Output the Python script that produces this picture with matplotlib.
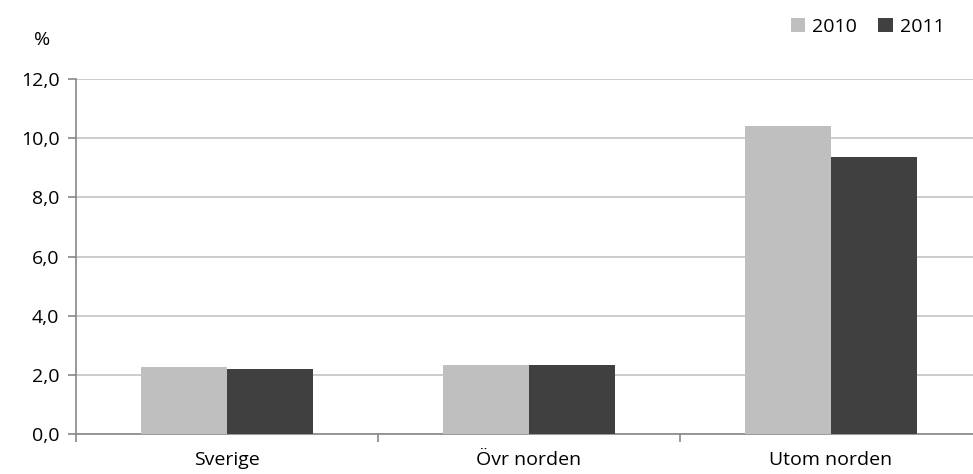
import matplotlib.pyplot as plt
import numpy as np

categories = ['Sverige', 'Övr norden', 'Utom norden']
values_2010 = [2.27, 2.33, 10.41]
values_2011 = [2.21, 2.32, 9.35]
years = ['2010', '2011']
yticks = [0, 2, 4, 6, 8, 10, 12]

plt.rcParams['font.family'] = ['Open Sans', 'DejaVu Sans']
fs = 14

fig = plt.figure(figsize=(9.73, 4.74), dpi=100)
# axes: left 76px, right ~982px (past edge), bottom 434px, top 79px
ax = fig.add_axes([76/973, 1 - 434/474, (982-76)/973, (434-79)/474])

x = np.arange(len(categories))
w = 0.285
ax.bar(x - w/2, values_2010, w, color='#bfbfbf', label=years[0], zorder=3)
ax.bar(x + w/2, values_2011, w, color='#404040', label=years[1], zorder=3)

ax.set_xlim(-0.5, 2.5)
ax.set_ylim(0, 12)
ax.set_yticks(yticks)
ax.set_yticklabels([f'{v:.1f}'.replace('.', ',') for v in yticks], fontsize=fs)
ax.yaxis.grid(True, color='#c4c4c4', linewidth=1.2, zorder=0)

ax.set_xticks(x)
ax.set_xticklabels(categories, fontsize=fs)
ax.set_xticks([-0.5, 0.5, 1.5, 2.5], minor=True)
ax.tick_params(axis='x', which='major', length=0, pad=12)
ax.tick_params(axis='x', which='minor', length=6, color='#888888', width=1.2)
ax.tick_params(axis='y', length=6, color='#888888', width=1.2, pad=6)

for s in ['top', 'right']:
    ax.spines[s].set_visible(False)
for s in ['left', 'bottom']:
    ax.spines[s].set_color('#888888')
    ax.spines[s].set_linewidth(1.2)

fig.text(42/973, 1 - 40/474, '%', fontsize=fs, ha='center', va='center')

ax.legend(loc='upper right', bbox_to_anchor=(962/973, 1 - 0/474), bbox_transform=fig.transFigure,
          ncol=2, frameon=False, fontsize=fs, handlelength=0.75, handleheight=0.75,
          handletextpad=0.35, columnspacing=1.1)

fig.savefig('out.png', dpi=100)
